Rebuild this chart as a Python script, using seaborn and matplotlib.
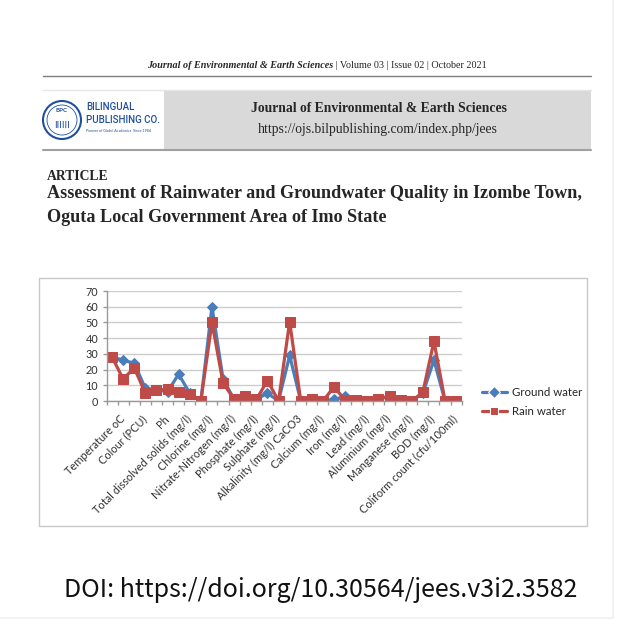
import numpy as np
import pandas as pd
import matplotlib
matplotlib.use("Agg")
import matplotlib.pyplot as plt
import matplotlib.transforms as mtransforms
from matplotlib.patches import Rectangle, Circle
import seaborn as sns

# Parameters: only every other category is labelled in the original chart
tick_labels = ["Temperature oC", "Colour (PCU)", "Ph", "Total dissolved solids (mg/l)",
               "Chlorine (mg/l)", "Nitrate-Nitrogen (mg/l)", "Phosphate (mg/l)",
               "Sulphate (mg/l)", "Alkalinity (mg/l) CaCO3", "Calcium (mg/l)",
               "Iron (mg/l)", "Lead (mg/l)", "Aluminium (mg/l)", "Manganese (mg/l)",
               "BOD (mg/l)", "Coliform count (cfu/100ml)"]

ground_water = [28, 26, 24, 8, 7, 6, 17, 5, 0, 60, 14, 1, 0, 1, 5, 0,
                29, 0, 1, 0, 1, 3, 0, 0, 1, 3, 0, 0, 5, 26, 0, 0]
rain_water = [28, 14, 21, 5, 7, 7.5, 5.5, 4.5, 0, 50, 11.5, 1, 3, 1, 13, 0,
              50.5, 0, 1, 0, 9, 0.5, 0.5, 0, 1.5, 3, 0.5, 0, 5.5, 38, 0, 0]

series_names = ["Ground water", "Rain water"]
series_colors = ["#4a7ebb", "#be4b48"]
series_markers = ["D", "s"]

idx = np.arange(len(ground_water))
df = pd.DataFrame({
    "idx": np.concatenate([idx, idx]),
    "value": ground_water + rain_water,
    "series": [series_names[0]] * len(idx) + [series_names[1]] * len(idx),
})

sns.set_theme(style="white")
plt.rcParams["font.family"] = ["Lato", "DejaVu Sans"]

W = 640
fig = plt.figure(figsize=(6.4, 6.4), dpi=100)
fig.patch.set_facecolor("white")


def fx(x):
    return x / W


def fy(y):
    return 1 - y / W


serif = "Liberation Serif"

# page edges
fig.add_artist(plt.Line2D([fx(613), fx(613)], [fy(0), fy(618)], color="#f0f0f0", lw=1.2))
fig.add_artist(plt.Line2D([fx(0), fx(613)], [fy(618), fy(618)], color="#f0f0f0", lw=1.2))

# header line
fig.text(fx(333), fy(65), "Journal of Environmental & Earth Sciences", family=serif,
         style="italic", weight="bold", size=7.3, ha="right", va="center")
fig.text(fx(333), fy(65), " | Volume 03 | Issue 02 | October 2021", family=serif,
         size=7.3, ha="left", va="center")
fig.add_artist(plt.Line2D([fx(43), fx(591)], [fy(76), fy(76)], color="#7f7f7f", lw=1))

# grey band with logo
fig.add_artist(Rectangle((fx(164), fy(150)), fx(591 - 164), (150 - 90) / W,
                         transform=fig.transFigure, facecolor="#d9d9d9", edgecolor="none"))
fig.add_artist(plt.Line2D([fx(43), fx(591)], [fy(150), fy(150)], color="#a0a0a0", lw=1.5))
fig.add_artist(plt.Line2D([fx(43), fx(591)], [fy(90), fy(90)], color="#e6e6e6", lw=1))
fig.text(fx(379), fy(108), "Journal of Environmental & Earth Sciences", family=serif,
         weight="bold", size=9.8, ha="center", va="center")
fig.text(fx(378), fy(129), "https://ojs.bilpublishing.com/index.php/jees", family=serif,
         size=9.8, ha="center", va="center")

logo_blue = "#1f4f9e"
fig.add_artist(Circle((fx(62), fy(120)), 19 / W, transform=fig.transFigure,
                      facecolor="white", edgecolor=logo_blue, lw=1.5))
fig.add_artist(Circle((fx(62), fy(120)), 15 / W, transform=fig.transFigure,
                      facecolor="none", edgecolor=logo_blue, lw=0.6))
fig.text(fx(62), fy(111), "BPC", color=logo_blue, size=4.5, ha="center", va="center",
         weight="bold")
fig.text(fx(62), fy(126), "IIIIII", color=logo_blue, size=7, ha="center", va="center")
fig.text(fx(86), fy(107), "BILINGUAL", color=logo_blue, size=7, ha="left", va="center",
         family="Roboto", weight="medium")
fig.text(fx(86), fy(120), "PUBLISHING CO.", color=logo_blue, size=7, ha="left", va="center",
         family="Roboto", weight="medium")
fig.text(fx(86), fy(131), "Pioneer of Global Academics  Since 1984", color=logo_blue,
         size=2.6, ha="left", va="center")

# article title
fig.text(fx(47), fy(177), "ARTICLE", family=serif, weight="bold", size=9.8,
         ha="left", va="center")
fig.text(fx(47), fy(194), "Assessment of Rainwater and Groundwater Quality in Izombe Town,",
         family=serif, weight="bold", size=13.1, ha="left", va="center")
fig.text(fx(47), fy(218), "Oguta Local Government Area of Imo State",
         family=serif, weight="bold", size=13.1, ha="left", va="center")

# chart box (behind the axes)
fig.add_artist(Rectangle((fx(39), fy(526)), fx(587 - 39), (526 - 278) / W,
                         transform=fig.transFigure, facecolor="white",
                         edgecolor="#c8c8c8", lw=1, zorder=-1))

# plot area
ax = fig.add_axes([fx(106.5), fy(401), fx(461.7 - 106.5), (401 - 291) / W])
ax.set_facecolor("none")
sns.lineplot(data=df, x="idx", y="value", hue="series", style="series",
             palette=dict(zip(series_names, series_colors)),
             markers=dict(zip(series_names, series_markers)), dashes=False,
             linewidth=2.3, ax=ax, legend=True)
for line, col, mk in zip(ax.lines, series_colors, series_markers):
    line.set_markeredgecolor(col)
    line.set_markersize(5.5 if mk == "D" else 7)

ax.set_xlim(-0.5, len(idx) - 0.5)
ax.set_ylim(0, 70)
ax.set_yticks(range(0, 71, 10))
ax.yaxis.grid(True, color="#cccccc", lw=1)
ax.set_axisbelow(True)
ax.set_xlabel("")
ax.set_ylabel("")
for s in ["top", "right"]:
    ax.spines[s].set_visible(False)
for s in ["left", "bottom"]:
    ax.spines[s].set_color("#999999")
    ax.spines[s].set_linewidth(1)

# tick marks between categories, labels on every other category
ax.set_xticks(np.arange(-0.5, len(idx), 1))
ax.set_xticklabels([])
ax.set_xticks(idx[::2], minor=True)
ax.set_xticklabels(tick_labels, minor=True, rotation=45, ha="right", va="top",
                   rotation_mode="anchor", fontsize=7.9, color="#303030")
ax.tick_params(axis="x", which="major", length=3, color="#999999", width=1, bottom=True)
ax.tick_params(axis="x", which="minor", length=0, pad=9, bottom=True)
ax.tick_params(axis="y", length=3, color="#999999", width=1, left=True,
               labelsize=7.8, labelcolor="#303030", pad=3)
shift = mtransforms.ScaledTranslation(0.07, 0, fig.dpi_scale_trans)
for lab in ax.get_xticklabels(minor=True):
    lab.set_transform(lab.get_transform() + shift)

handles, labels = ax.get_legend_handles_labels()
ax.legend(handles, labels, loc="center left", bbox_to_anchor=(fx(476), fy(402)),
          bbox_transform=fig.transFigure, frameon=False, fontsize=8.3,
          handlelength=2.2, labelspacing=0.75, handletextpad=0.4, borderpad=0)

# DOI
fig.text(fx(321), fy(590), "DOI: https://doi.org/10.30564/jees.v3i2.3582",
         family=["Noto Sans CJK JP", "DejaVu Sans"], size=18, ha="center", va="center",
         color="#111111")

fig.savefig("out.png", dpi=100, facecolor="white")
